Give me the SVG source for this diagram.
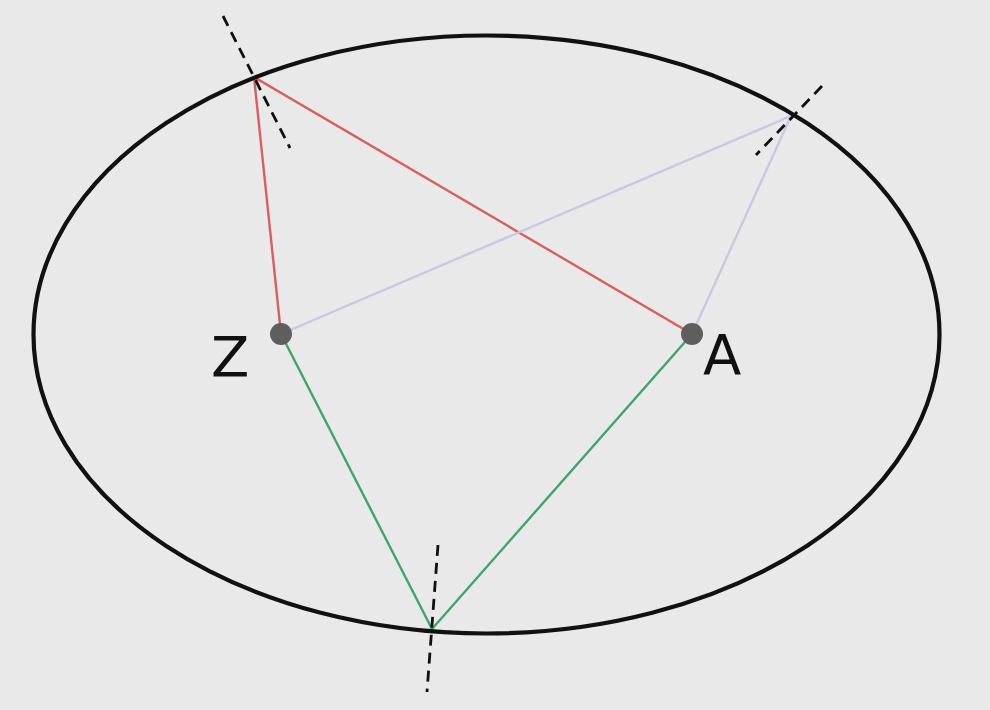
<svg xmlns="http://www.w3.org/2000/svg" width="990" height="710" viewBox="0 0 990 710">
<style>
.ray{stroke-width:2.4;fill:none}
.red{stroke:#d8605c}
.lav{stroke:#c8c8e0}
.grn{stroke:#3fa56c}
.tan{stroke:#111;stroke-width:2.8;stroke-dasharray:11 7;fill:none}
.dot{fill:#5e5e5e}
.lbl{font-family:"DejaVu Sans",sans-serif;font-size:56px;fill:#111}
</style>
<rect width="990" height="710" fill="#e9e9e9"/>
<g id="connectors">
<line class="ray red" x1="281" y1="334" x2="254" y2="77"/>
<line class="ray red" x1="254" y1="77" x2="692" y2="334"/>
<line class="ray lav" x1="281" y1="334" x2="791" y2="116"/>
<line class="ray lav" x1="791" y1="116" x2="692" y2="334"/>
<line class="ray grn" x1="281" y1="334" x2="432" y2="629"/>
<line class="ray grn" x1="432" y1="629" x2="692" y2="334"/>
</g>
<g id="ellipse">
<ellipse cx="486.5" cy="334.5" rx="453" ry="299" fill="none" stroke="#111" stroke-width="4.2"/>
</g>
<g id="tangents">
<line class="tan" x1="223" y1="16" x2="290" y2="148"/>
<line class="tan" x1="822" y1="86" x2="756" y2="155"/>
<line class="tan" x1="438" y1="545" x2="427" y2="692"/>
</g>
<g id="Z">
<circle class="dot" cx="281" cy="334" r="11"/>
<text class="lbl" x="211" y="376">Z</text>
</g>
<g id="A">
<circle class="dot" cx="692" cy="334" r="11"/>
<text class="lbl" x="703" y="374">A</text>
</g>
</svg>
